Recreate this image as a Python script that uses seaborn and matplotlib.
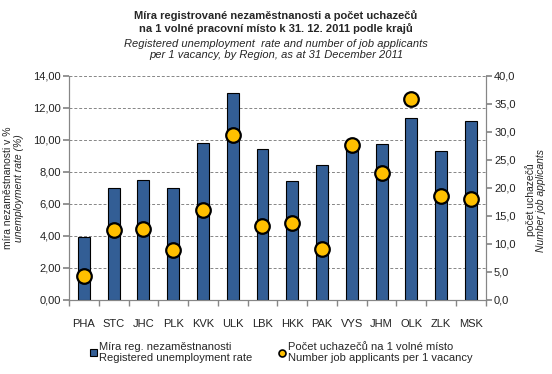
import matplotlib
matplotlib.use("Agg")
import matplotlib.pyplot as plt
import numpy as np
import pandas as pd
import seaborn as sns
from matplotlib.lines import Line2D
from matplotlib.patches import Patch
from matplotlib.ticker import FuncFormatter, MultipleLocator

regions = ['PHA', 'STC', 'JHC', 'PLK', 'KVK', 'ULK', 'LBK', 'HKK', 'PAK', 'VYS', 'JHM', 'OLK', 'ZLK', 'MSK']
unemployment = [3.90, 7.01, 7.51, 7.01, 9.81, 12.92, 9.44, 7.45, 8.44, 9.70, 9.75, 11.37, 9.31, 11.18]
applicants = [4.3, 12.4, 12.7, 8.9, 16.0, 29.4, 13.1, 13.7, 9.0, 27.7, 22.6, 35.8, 18.5, 18.0]

BAR_COL = '#335E95'
DOT_COL = '#FFC000'
GREY = '#868686'

sns.set_theme(style='white')
plt.rcParams['font.family'] = ['Liberation Sans', 'DejaVu Sans']

df = pd.DataFrame({'region': regions, 'rate': unemployment, 'apps': applicants})

fig = plt.figure(figsize=(5.52, 3.74), dpi=100)
ax = fig.add_axes([0.125, 0.198, 0.755, 0.600])

sns.barplot(data=df, x='region', y='rate', color=BAR_COL, width=0.4,
            edgecolor='black', linewidth=0.8, saturation=1, ax=ax, zorder=3)
ax.set_ylim(0, 14)
ax.yaxis.set_major_locator(MultipleLocator(2))
ax.yaxis.set_major_formatter(FuncFormatter(lambda v, p: f'{v:.2f}'.replace('.', ',')))
ax.grid(axis='y', linestyle=(0, (3, 2)), color=GREY, linewidth=0.7, zorder=0)
ax.set_xlim(-0.5, len(regions) - 0.5)

ax2 = ax.twinx()
sns.scatterplot(data=df, x='region', y='apps', color=DOT_COL, s=110,
                edgecolor='black', linewidth=1.6, ax=ax2, zorder=4)
ax2.set_ylim(0, 40)
ax2.yaxis.set_major_locator(MultipleLocator(5))
ax2.yaxis.set_major_formatter(FuncFormatter(lambda v, p: f'{v:.1f}'.replace('.', ',')))
ax2.set_xlim(-0.5, len(regions) - 0.5)

for a in (ax, ax2):
    for s in a.spines.values():
        s.set_color(GREY)
        s.set_linewidth(0.8)
    a.spines['top'].set_visible(False)
    a.tick_params(axis='y', length=4, color=GREY, labelsize=8, colors='#222222', pad=2)
ax2.set_ylabel('')
ax2.set_xlabel('')
ax.set_xlabel('')
ax.set_ylabel('')

ax.set_xticks(range(len(regions)))
ax.set_xticklabels(regions)
ax.set_xticks(np.arange(-0.5, len(regions)), minor=True)
ax.tick_params(axis='x', which='major', length=0, labelsize=8, pad=14, colors='#222222')
ax.tick_params(axis='x', which='minor', length=4, color=GREY, bottom=True)
ax.tick_params(axis='y', left=True)
ax2.tick_params(axis='y', right=True)

# titles
fig.text(0.5, 0.974, 'Míra registrované nezaměstnanosti a počet uchazečů\nna 1 volné pracovní místo k 31. 12. 2011 podle krajů',
         ha='center', va='top', fontsize=8, fontweight='bold', linespacing=1.3)
fig.text(0.5, 0.895, 'Registered unemployment  rate and number of job applicants\nper 1 vacancy, by Region, as at 31 December 2011',
         ha='center', va='top', fontsize=8, style='italic', linespacing=1.15)

# axis labels
fig.text(0.015, 0.497, 'míra nezaměstnanosti v %', rotation=90, ha='center', va='center', fontsize=7.5)
fig.text(0.034, 0.497, 'unemployment rate (%)', rotation=90, ha='center', va='center', fontsize=7.5, style='italic')
fig.text(0.962, 0.465, 'počet uchazečů', rotation=90, ha='center', va='center', fontsize=7.5)
fig.text(0.980, 0.465, 'Number job applicants', rotation=90, ha='center', va='center', fontsize=7.5, style='italic')

handles = [
    Patch(facecolor=BAR_COL, edgecolor='black', linewidth=0.8),
    Line2D([], [], marker='o', linestyle='none', markerfacecolor=DOT_COL,
           markeredgecolor='black', markeredgewidth=1.2, markersize=5),
]
labels = ['Míra reg. nezaměstnanosti\nRegistered unemployment rate',
          'Počet uchazečů na 1 volné místo\nNumber job applicants per 1 vacancy']
fig.legend(handles, labels, loc='center', bbox_to_anchor=(0.51, 0.058), ncol=2, frameon=False,
           fontsize=8, handlelength=0.6, handleheight=0.6, handletextpad=0.2, columnspacing=2.4,
           borderaxespad=0)

fig.savefig('out.png', dpi=100)
